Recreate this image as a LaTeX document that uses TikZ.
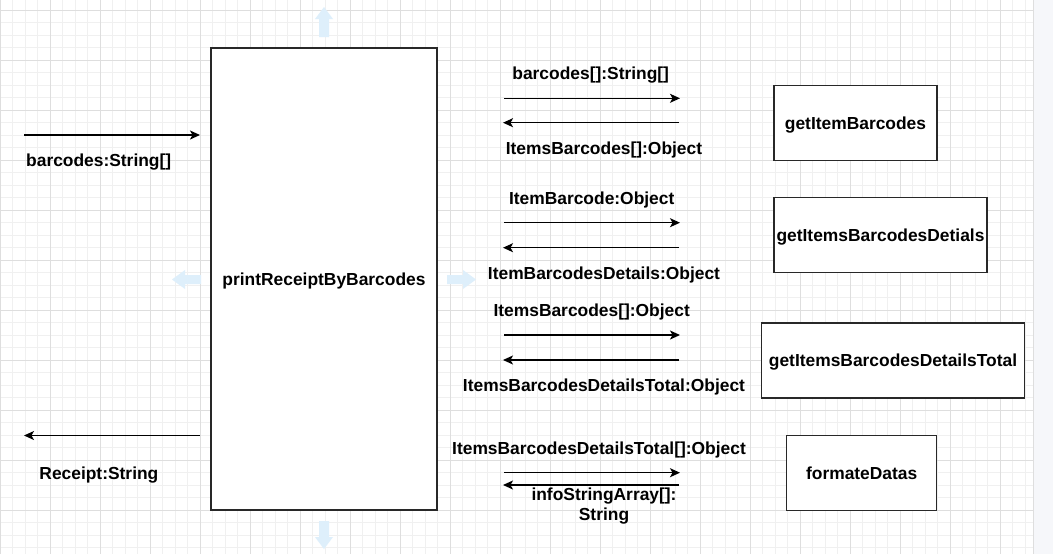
\documentclass[tikz,border=0pt]{standalone}
\usepackage{fontspec}
\setmainfont{Liberation Sans}
\usetikzlibrary{arrows.meta}
\definecolor{minorgrid}{RGB}{240,240,240}
\definecolor{majorgrid}{RGB}{222,222,222}
\definecolor{hoverblue}{RGB}{222,239,251}
\definecolor{outside}{RGB}{246,247,250}
\definecolor{boxline}{RGB}{40,40,40}
\tikzset{
  lbl/.style={font=\fontsize{17.4}{19.5}\selectfont\bfseries, inner sep=0pt, text=black,
    text height=12.5pt, text depth=0pt},
  lbltwo/.style={font=\fontsize{17.4}{19.5}\selectfont\bfseries, inner sep=0pt, text=black, align=center},
  fnbox/.style={draw=boxline, fill=white, line width=1.3pt, inner sep=0pt,
    text height=12.5pt, text depth=0pt,
    font=\fontsize{17.4}{19.5}\selectfont\bfseries},
  msg/.style={draw=black, line width=1.3pt, -{Stealth[length=10pt,width=9pt,inset=2.5pt]}},
  hover/.style={fill=hoverblue, draw=none},
}
\begin{document}
\begin{tikzpicture}[x=1pt,y=-1pt]
\useasboundingbox (0,0) rectangle (1053,554);
% background and grid
\fill[white] (0,0) rectangle (1033.5,554);
\fill[outside] (1033.5,0) rectangle (1053,554);
\foreach \i in {0,...,82} \draw[minorgrid, line width=0.8pt] (\i*12.5,0) -- (\i*12.5,554);
\foreach \j in {0,...,43} \draw[minorgrid, line width=0.8pt] (0,10+\j*12.5) -- (1033.5,10+\j*12.5);
\foreach \i in {0,...,20} \draw[majorgrid, line width=0.9pt] (\i*50,0) -- (\i*50,554);
\foreach \j in {0,...,10} \draw[majorgrid, line width=0.9pt] (0,10+\j*50) -- (1033.5,10+\j*50);
\draw[majorgrid, line width=1pt] (1033.5,0) -- (1033.5,554);

% hover arrows
\fill[hover] (319,37) -- (319,19) -- (315,19) -- (324,7) -- (333,19) -- (329,19) -- (329,37) -- cycle;
\fill[hover] (319,521) -- (319,537) -- (315,537) -- (324,549) -- (333,537) -- (329,537) -- (329,521) -- cycle;
\fill[hover] (201,275) -- (185,275) -- (185,270) -- (172,279.5) -- (185,289) -- (185,284) -- (201,284) -- cycle;
\fill[hover] (447,275) -- (463,275) -- (463,270) -- (476,279.5) -- (463,289) -- (463,284) -- (447,284) -- cycle;

% boxes
\node[fnbox, minimum width=226pt, minimum height=462pt] (main) at (324,279) {printReceiptByBarcodes};
\node[fnbox, minimum width=163pt, minimum height=75pt] (gib) at (855.5,122.8) {getItemBarcodes};
\node[fnbox, minimum width=213pt, minimum height=75pt] (gibd) at (880.5,235.2) {getItemsBarcodesDetials};
\node[fnbox, minimum width=262.6pt, minimum height=75pt] (gibdt) at (893,360.5) {getItemsBarcodesDetailsTotal};
\node[fnbox, minimum width=150pt, minimum height=75pt] (fd) at (861.7,472.8) {formateDatas};

% left side connectors
\coordinate (inS) at (24,135);
\coordinate (inE) at (200,135);
\draw[msg] (inS) -- (inE);
\node[lbl] (inL) at (98.7,160.5) {barcodes:String[]};
\coordinate (outS) at (200,435.5);
\coordinate (outE) at (24,435.5);
\draw[msg] (outS) -- (outE);
\node[lbl] (outL) at (98.9,473.5) {Receipt:String};

% middle connectors
\coordinate (r1s) at (504,98.3);  \coordinate (r1e) at (680,98.3);
\coordinate (l1s) at (679,122.7); \coordinate (l1e) at (503,122.7);
\draw[msg] (r1s) -- (r1e);
\draw[msg] (l1s) -- (l1e);
\node[lbl] (t1) at (590.7,73.5) {barcodes[]:String[]};
\node[lbl] (b1) at (604,148.5) {ItemsBarcodes[]:Object};

\coordinate (r2s) at (504,222.7); \coordinate (r2e) at (680,222.7);
\coordinate (l2s) at (679,247.7); \coordinate (l2e) at (503,247.7);
\draw[msg] (r2s) -- (r2e);
\draw[msg] (l2s) -- (l2e);
\node[lbl] (t2) at (591.7,198.5) {ItemBarcode:Object};
\node[lbl] (b2) at (604,273) {ItemBarcodesDetails:Object};

\coordinate (r3s) at (504,335);   \coordinate (r3e) at (680,335);
\coordinate (l3s) at (679,360);   \coordinate (l3e) at (503,360);
\draw[msg] (r3s) -- (r3e);
\draw[msg] (l3s) -- (l3e);
\node[lbl] (t3) at (591.7,310.5) {ItemsBarcodes[]:Object};
\node[lbl] (b3) at (604,385.5) {ItemsBarcodesDetailsTotal:Object};

\coordinate (r4s) at (504,472.7); \coordinate (r4e) at (680,472.7);
\coordinate (l4s) at (679,485);   \coordinate (l4e) at (503,485);
\draw[msg] (r4s) -- (r4e);
\draw[msg] (l4s) -- (l4e);
\node[lbl] (t4) at (599,448.5) {ItemsBarcodesDetailsTotal[]:Object};
\node[lbltwo] (b4) at (604,506) {infoStringArray[]:\\String};
\end{tikzpicture}
\end{document}
